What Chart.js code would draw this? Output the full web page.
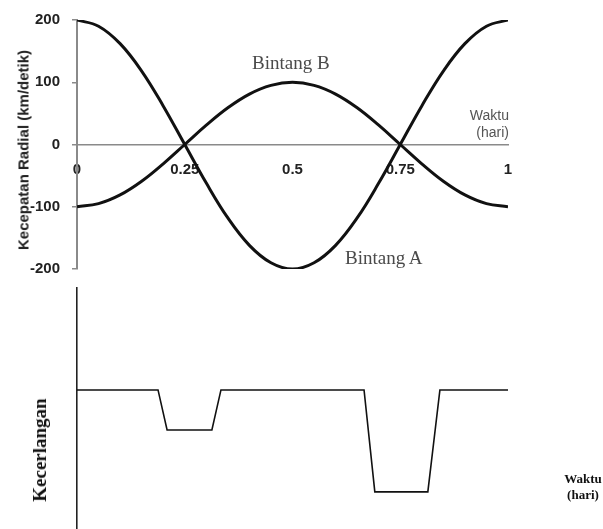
<!DOCTYPE html>
<html>
<head>
<meta charset="utf-8">
<script src="https://cdn.jsdelivr.net/npm/chart.js@4"></script>
<style>
  html, body { margin: 0; padding: 0; background: #fff; }
  body { width: 603px; height: 529px; position: relative; overflow: hidden; }
  .box { position: absolute; }
  .lbl { position: absolute; white-space: nowrap; line-height: 1; }
  .rot { transform: translate(-50%, -50%) rotate(-90deg); }
</style>
</head>
<body>
<div class="box" style="left:0;top:0;width:603px;height:280px;"><canvas id="rv-chart"></canvas></div>
<div class="box" style="left:0;top:280px;width:603px;height:249px;"><canvas id="light-chart"></canvas></div>

<!-- teks anotasi -->
<div class="lbl rot" style="left:23px;top:150px;font:bold 15px 'Liberation Sans',Arial,sans-serif;color:#222;">Kecepatan Radial (km/detik)</div>
<div class="lbl" style="left:252px;top:52px;font:19px 'Liberation Serif',serif;color:#4a4a4a;">Bintang B</div>
<div class="lbl" style="left:345px;top:247px;font:19px 'Liberation Serif',serif;color:#4a4a4a;">Bintang A</div>
<div class="lbl" style="left:449px;top:107px;font:14px 'Liberation Sans',Arial,sans-serif;color:#555;text-align:right;width:60px;line-height:17px;">Waktu<br>(hari)</div>
<div class="lbl rot" style="left:40px;top:450px;font:bold 19px 'Liberation Serif',serif;color:#111;">Kecerlangan</div>
<div class="lbl" style="left:563px;top:471px;font:bold 13px 'Liberation Serif',serif;color:#111;text-align:center;width:40px;line-height:16px;">Waktu<br>(hari)</div>

<script>
// Data kecepatan radial (fase 0..1)
const phase = [0, 0.05, 0.1, 0.15, 0.2, 0.25, 0.3, 0.35, 0.4, 0.45, 0.5,
               0.55, 0.6, 0.65, 0.7, 0.75, 0.8, 0.85, 0.9, 0.95, 1];
const starA = [200, 190, 162, 118, 62, 0, -62, -118, -162, -190, -200,
               -190, -162, -118, -62, 0, 62, 118, 162, 190, 200];
const starB = [-100, -95, -81, -59, -31, 0, 31, 59, 81, 95, 100,
               95, 81, 59, 31, 0, -31, -59, -81, -95, -100];
const rvTicks = [0, 0.25, 0.5, 0.75, 1];

// Data kurva cahaya (kecerlangan)
const lightTime = [0, 0.188, 0.209, 0.313, 0.334, 0.666, 0.691, 0.814, 0.842, 1];
const lightLevel = [5.77, 5.77, 4.11, 4.11, 5.77, 5.77, 1.54, 1.54, 5.77, 5.77];

const toXY = (xs, ys) => xs.map((x, i) => ({ x: x, y: ys[i] }));

const tickFont = { family: "'Liberation Sans', Arial, sans-serif", size: 15, weight: 'bold' };

const rvChart = new Chart(document.getElementById('rv-chart'), {
    type: 'line',
    data: {
        datasets: [
            { label: 'Bintang A', data: toXY(phase, starA), borderColor: '#111', borderWidth: 3,
              pointRadius: 0, tension: 0.4, fill: false },
            { label: 'Bintang B', data: toXY(phase, starB), borderColor: '#111', borderWidth: 3,
              pointRadius: 0, tension: 0.4, fill: false }
        ]
    },
    options: {
        animation: false,
        responsive: true,
        maintainAspectRatio: false,
        layout: { padding: { left: 0, top: 20, right: 95, bottom: 11 } },
        plugins: { legend: { display: false }, tooltip: { enabled: false } },
        scales: {
            x: {
                type: 'linear',
                min: 0,
                max: 1,
                position: { y: 0 },
                afterBuildTicks: (scale) => { scale.ticks = rvTicks.map(v => ({ value: v })); },
                afterFit: (scale) => { scale.height = 0; },
                ticks: { font: tickFont, color: '#222', padding: 8, maxRotation: 0,
                         callback: (v) => String(v) },
                grid: { display: false },
                border: { display: true, color: '#8a8a8a', width: 1.5 }
            },
            y: {
                min: -200,
                max: 200,
                ticks: { stepSize: 100, font: tickFont, color: '#222', padding: 12 },
                grid: { drawOnChartArea: false, drawTicks: true, tickLength: 5, color: '#8a8a8a', lineWidth: 1.5 },
                border: { display: true, color: '#8a8a8a', width: 2 },
                afterFit: (scale) => {
                    scale.width = 77;
                    scale.paddingTop = 0;
                    scale.paddingBottom = 0;
                }
            }
        }
    }
});

const lightChart = new Chart(document.getElementById('light-chart'), {
    type: 'line',
    data: {
        datasets: [
            { label: 'Kecerlangan', data: toXY(lightTime, lightLevel), borderColor: '#111', borderWidth: 1.6,
              pointRadius: 0, tension: 0, fill: false }
        ]
    },
    options: {
        animation: false,
        responsive: true,
        maintainAspectRatio: false,
        layout: { padding: { left: 0, top: 8, right: 95, bottom: 0 } },
        plugins: { legend: { display: false }, tooltip: { enabled: false } },
        scales: {
            x: { type: 'linear', min: 0, max: 1, display: false },
            y: {
                min: 0,
                max: 10,
                ticks: { display: false },
                grid: { display: false },
                border: { display: true, color: '#222', width: 1.6 },
                afterFit: (scale) => {
                    scale.width = 77;
                    scale.paddingTop = 0;
                    scale.paddingBottom = 0;
                }
            }
        }
    }
});
</script>
</body>
</html>
